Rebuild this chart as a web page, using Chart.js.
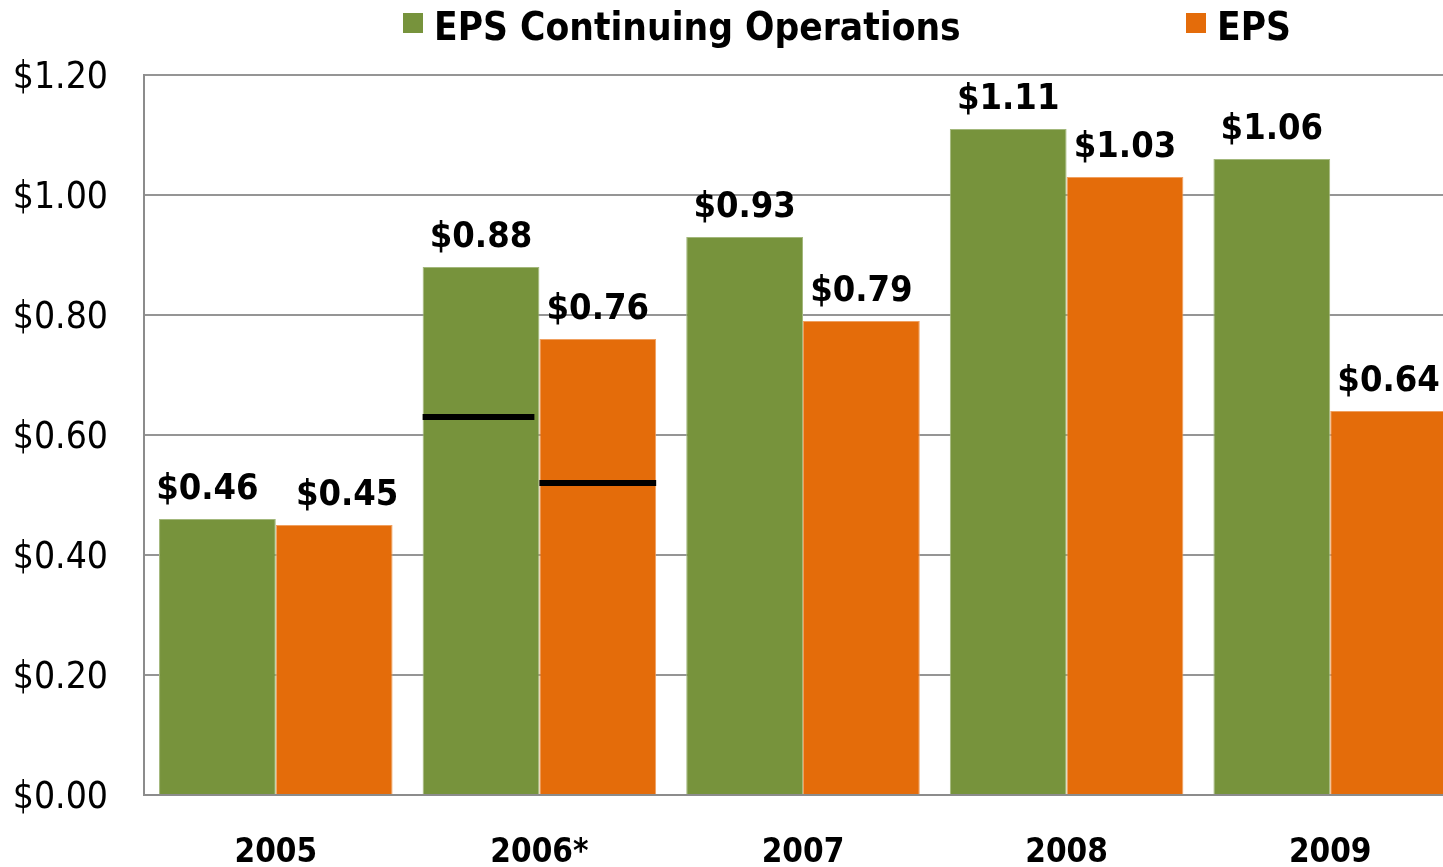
<!DOCTYPE html>
<html>
<head>
<meta charset="utf-8">
<script src="https://cdn.jsdelivr.net/npm/chart.js@4.4.1/dist/chart.umd.min.js"></script>
<style>
  html, body { margin: 0; padding: 0; background: #ffffff; overflow: hidden; width: 1443px; height: 867px; }
  #wrap { position: relative; width: 1462px; height: 867px; }
  canvas { display: block; }
</style>
</head>
<body>
<div id="wrap"><canvas id="c" width="1462" height="867"></canvas></div>
<script>
// ---- data ----
const categories = ['2005', '2006*', '2007', '2008', '2009'];
const seriesNames = ['EPS Continuing Operations', 'EPS'];
const epsContinuing = [0.46, 0.88, 0.93, 1.11, 1.06];
const eps = [0.45, 0.76, 0.79, 1.03, 0.64];
// black marker lines drawn inside the 2006* bars (one per series)
const markerCategory = '2006*';
const markerValues = [0.63, 0.52];
const yTickValues = [0, 0.2, 0.4, 0.6, 0.8, 1.0, 1.2];

// ---- styles ----
const GREEN = '#77933C';
const ORANGE = '#E46C0A';
const FONT_REG = '"DejaVu Sans Condensed", "DejaVu Sans", sans-serif';
const FONT_BOLD = '"DejaVu Sans Condensed", "DejaVu Sans", sans-serif';
// horizontal nudges of value labels (first category labels spread apart)
const LABEL_NUDGE = { '0-0': -10, '1-0': 13 };

const legendPlugin = {
  id: 'customLegend',
  afterDraw(chart) {
    const ctx = chart.ctx;
    const xs = [403, 1186];
    ctx.save();
    ctx.font = 'bold 38.5px ' + FONT_BOLD;
    ctx.textBaseline = 'alphabetic';
    ctx.textAlign = 'left';
    chart.data.datasets.forEach((ds, i) => {
      ctx.fillStyle = ds.backgroundColor;
      ctx.fillRect(xs[i], 13, 20, 20);
      ctx.fillStyle = '#000';
      ctx.fillText(ds.label, xs[i] + 31, 40);
    });
    ctx.restore();
  }
};

const valueLabelPlugin = {
  id: 'valueLabels',
  afterDatasetsDraw(chart) {
    const ctx = chart.ctx;
    const yScale = chart.scales.y;
    ctx.save();
    // markers
    const mi = categories.indexOf(markerCategory);
    chart.data.datasets.forEach((ds, di) => {
      const bar = chart.getDatasetMeta(di).data[mi];
      const y = yScale.getPixelForValue(markerValues[di]);
      ctx.strokeStyle = '#000';
      ctx.lineWidth = 6;
      ctx.beginPath();
      ctx.moveTo(bar.x - bar.width / 2, y);
      ctx.lineTo(bar.x + bar.width / 2 - (di === 0 ? 5 : 0), y);
      ctx.stroke();
    });
    // value labels
    ctx.font = 'bold 36px ' + FONT_BOLD;
    ctx.fillStyle = '#000';
    ctx.textAlign = 'center';
    ctx.textBaseline = 'alphabetic';
    chart.data.datasets.forEach((ds, di) => {
      chart.getDatasetMeta(di).data.forEach((bar, i) => {
        const dx = LABEL_NUDGE[di + '-' + i] || 0;
        ctx.fillText('$' + ds.data[i].toFixed(2), bar.x + dx, bar.y - 20);
      });
    });
    ctx.restore();
  }
};

new Chart(document.getElementById('c'), {
  type: 'bar',
  data: {
    labels: categories,
    datasets: [
      { label: seriesNames[0], data: epsContinuing, backgroundColor: GREEN, borderColor: '#a3b87c', borderWidth: 1,
        categoryPercentage: 0.886, barPercentage: 1.0 },
      { label: seriesNames[1], data: eps, backgroundColor: ORANGE, borderColor: '#f0a060', borderWidth: 1,
        categoryPercentage: 0.886, barPercentage: 1.0 }
    ]
  },
  options: {
    responsive: false,
    animation: false,
    devicePixelRatio: 1,
    layout: { padding: { top: 75, left: 0, right: 0, bottom: 0 } },
    plugins: { legend: { display: false }, tooltip: { enabled: false } },
    scales: {
      x: {
        grid: { display: false, drawTicks: false },
        border: { display: true, color: '#8c8c8c', width: 2 },
        ticks: { color: '#000', font: { family: FONT_BOLD, size: 33, weight: 'bold' }, padding: 39 },
        afterFit(scale) { scale.height = 72; }
      },
      y: {
        min: 0, max: 1.2,
        afterBuildTicks(scale) { scale.ticks = yTickValues.map(v => ({ value: v })); },
        grid: { color: '#959595', lineWidth: 2, drawTicks: false },
        border: { display: true, color: '#8c8c8c', width: 2 },
        ticks: {
          color: '#000', padding: 36, labelOffset: 3,
          font: { family: FONT_REG, size: 37 },
          callback: (v) => '$' + Number(v).toFixed(2)
        },
        afterFit(scale) { scale.width = 144; }
      }
    }
  },
  plugins: [legendPlugin, valueLabelPlugin]
});
</script>
</body>
</html>
